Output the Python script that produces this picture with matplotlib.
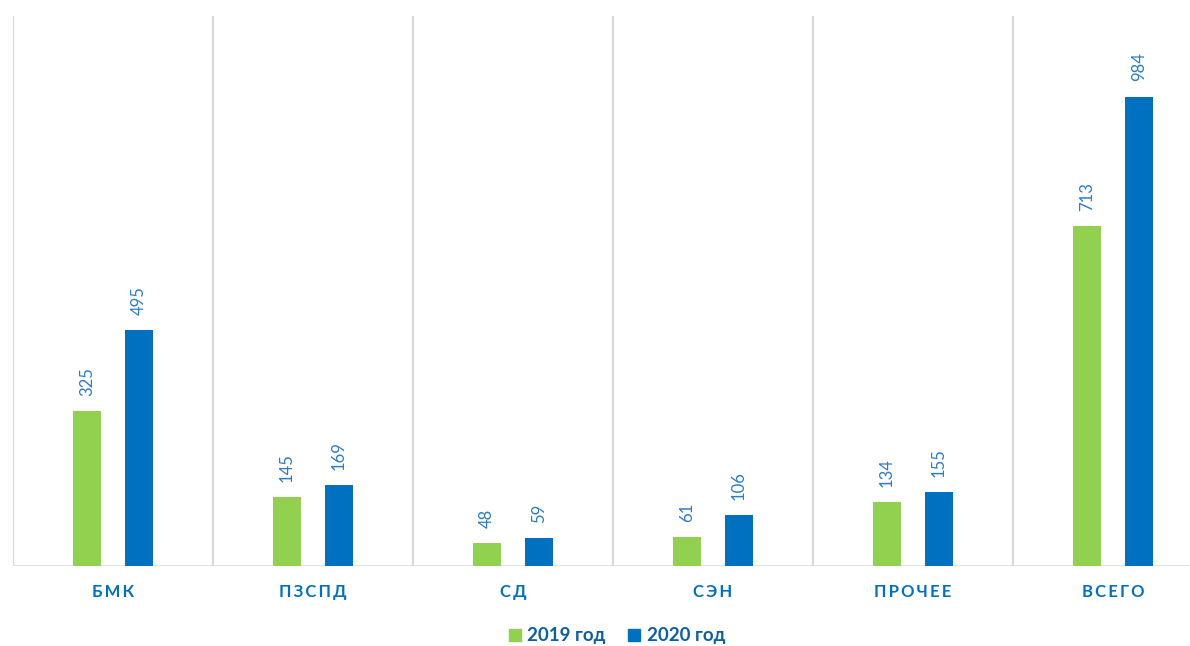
import matplotlib
matplotlib.use("Agg")
from matplotlib import pyplot as plt
from matplotlib.patches import Patch
from matplotlib import font_manager
import numpy as np

categories = ["БМК", "ПЗСПД", "СД", "СЭН", "ПРОЧЕЕ", "ВСЕГО"]
values_2019 = [325, 145, 48, 61, 134, 713]
values_2020 = [495, 169, 59, 106, 155, 984]
series_names = ["2019 год", "2020 год"]

green = "#92D050"
blue = "#0070C0"
label_blue = "#2A7CC7"
grid_grey = "#D9D9D9"
fonts = ["Lato", "DejaVu Sans"]

# narrow digits for the value labels if available
names = {f.name for f in font_manager.fontManager.ttflist}
num_fonts = ["Liberation Sans Narrow"] + fonts if "Liberation Sans Narrow" in names else fonts
num_size = 13 if "Liberation Sans Narrow" in names else 12
print(num_fonts)

fig = plt.figure(figsize=(11.9, 6.46), dpi=100)
# plot area: left edge at x=13px, extends past right border like the source crop
ax = fig.add_axes([13 / 1190, 80 / 646, 1200 / 1190, 550 / 646])

x = np.arange(len(categories))
w = 0.14
off = 0.13
b1 = ax.bar(x - off, values_2019, width=w, color=green, zorder=3)
b2 = ax.bar(x + off, values_2020, width=w, color=blue, zorder=3)

for bars, vals in ((b1, values_2019), (b2, values_2020)):
    for r, v in zip(bars, vals):
        ax.annotate(str(v), (r.get_x() + r.get_width() / 2, r.get_height()),
                    xytext=(0, 11), textcoords="offset points",
                    rotation=90, ha="center", va="bottom",
                    fontsize=num_size, color=label_blue, family=num_fonts)

ax.set_xlim(-0.5, len(categories) - 0.5)
ax.set_ylim(0, 1153)

# vertical separators between categories
for s in np.arange(-0.5, len(categories), 1.0):
    ax.axvline(s, color=grid_grey, lw=1.6, zorder=1)
ax.axhline(0, color=grid_grey, lw=1.8, zorder=2)

for sp in ax.spines.values():
    sp.set_visible(False)
ax.set_yticks([])
ax.set_xticks(x)
ax.set_xticklabels(["\u2009".join(c) for c in categories], fontsize=12,
                   fontweight="bold", color=blue, family=fonts)
ax.tick_params(axis="x", length=0, pad=13)

handles = [Patch(color=green), Patch(color=blue)]
leg = fig.legend(handles, series_names, loc="center",
                 bbox_to_anchor=(617 / 1190, 1 - 636 / 646), ncol=2,
                 frameon=False, handlelength=0.65, handleheight=0.65,
                 handletextpad=0.35, columnspacing=1.2,
                 prop={"family": fonts, "weight": "bold", "size": 13.5})
for t in leg.get_texts():
    t.set_color("#0B5EA8")

fig.savefig("out.png", dpi=100)
